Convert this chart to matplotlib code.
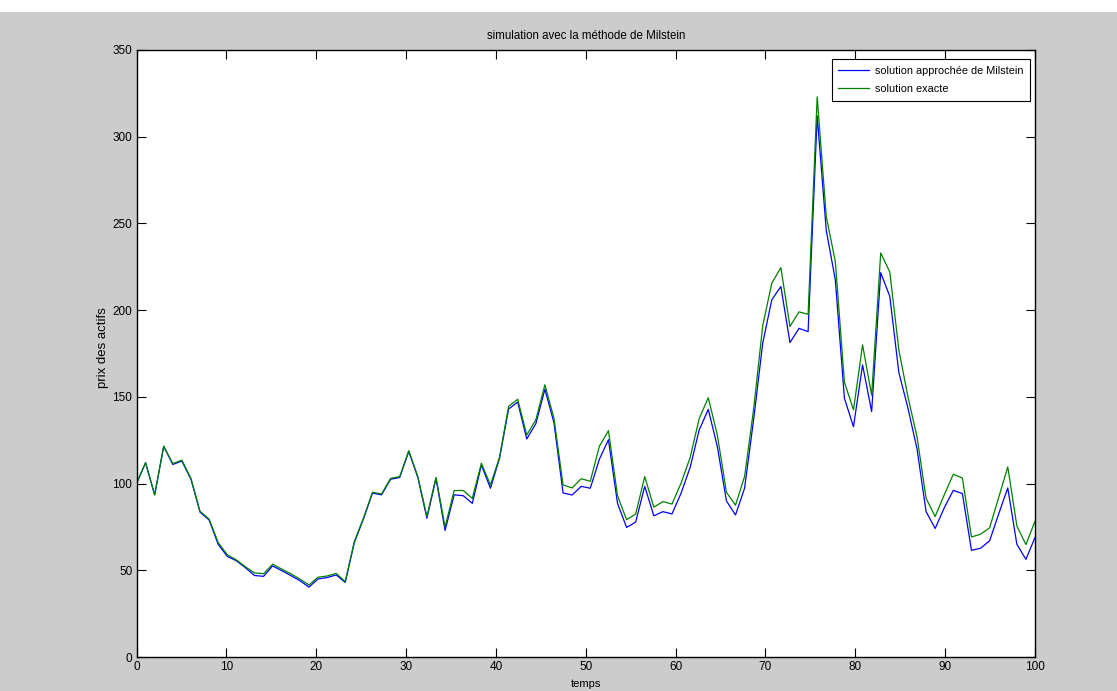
import numpy as np
import matplotlib
matplotlib.use("Agg")
import matplotlib.pyplot as plt
from matplotlib.patches import Rectangle

# ---- data ----
t = np.linspace(0, 100, 100)
milstein = [100, 112, 93.5, 121.5, 111, 113, 102.5, 83.5, 79, 65,
            58, 55.5, 51.5, 47, 46.5, 52.5, 49.8, 47, 44, 40.3,
            45, 45.8, 47.3, 43, 66, 79.5, 94.5, 93.5, 102.5, 103.5,
            118.5, 103.5, 80, 103, 73, 93.5, 93, 88.6, 110.7, 97.3,
            114.6, 143, 147, 125.7, 134.5, 154.4, 135, 94.6, 93.4, 98.4,
            97.3, 114, 125.3, 88.6, 74.7, 77.8, 98.4, 81.4, 83.8, 82.5,
            94.4, 109.3, 130.9, 142.8, 121.3, 90, 81.9, 97.3, 137, 181,
            206, 213.6, 181.3, 189.5, 187.6, 312, 246, 217.4, 149.2, 132.8,
            168.4, 141.5, 221.6, 208, 164, 143.5, 120, 83.8, 74.1, 86,
            96.1, 94.2, 61.5, 62.7, 67, 82.5, 97.5, 65, 56.3, 68.9]
exacte = [100, 112, 93.5, 121.5, 111.5, 113.5, 103, 84, 79.5, 66,
          59, 56, 52, 48.5, 48, 53.5, 50.7, 48, 45, 41.5,
          46, 46.7, 48.2, 43.5, 66.5, 80, 95, 94, 103, 104,
          119, 104, 81, 103.6, 75, 96, 96, 91.5, 111.7, 99.2,
          115.2, 144.5, 148.6, 128, 136.7, 157, 137.5, 99.2, 97.5, 102.8,
          101.3, 121.5, 130.5, 93, 79.2, 82.4, 104, 86.4, 89.6, 88.2,
          100.2, 115, 137.5, 149.5, 128, 95, 87.5, 104, 143, 191,
          215.6, 224.5, 190.6, 199, 197.6, 323, 254, 228, 158.5, 142.5,
          180, 151, 233, 222, 177, 150, 127, 91.5, 81, 93.5,
          105.4, 103.2, 69.2, 70.8, 74.5, 92, 109.6, 75.6, 64.8, 78.3]
xticks = list(range(0, 101, 10))
yticks = list(range(0, 351, 50))
labels = ["solution approchée de Milstein", "solution exacte"]
title = "simulation avec la méthode de Milstein"

W, H = 1117, 691
fig = plt.figure(figsize=(W / 100, H / 100), dpi=100, facecolor="#cccccc")
fig.patches.append(Rectangle((0, 1 - 12 / H), 1, 12 / H, transform=fig.transFigure,
                             facecolor="white", edgecolor="none", zorder=-1))

fam = ["Liberation Sans", "DejaVu Sans"]

L, R, T, B = 136.5, 1035, 50, 657
ax = fig.add_axes([L / W, 1 - B / H, (R - L) / W, (B - T) / H])
ax.set_facecolor("white")
ax.plot(t, milstein, color="#0000ff", lw=0.9, label=labels[0])
ax.plot(t, exacte, color="#008000", lw=0.9, label=labels[1])
ax.set_xlim(0, 100)
ax.set_ylim(0, 350)
ax.set_xticks(xticks)
ax.set_yticks(yticks)
ax.tick_params(direction="in", length=6.5, width=0.8, top=True, right=True,
               labelsize=8.5, pad=3, colors="black")
for lab in ax.get_xticklabels() + ax.get_yticklabels():
    lab.set_family(fam)
for s in ax.spines.values():
    s.set_linewidth(1.0)
    s.set_color("black")

fig.text(((L + R) / 2) / W, 1 - 36 / H, title, ha="center", va="center",
         fontsize=8.3, family=fam)
fig.text(103 / W, 1 - 348 / H, "prix des actifs", ha="center", va="center",
         rotation=90, fontsize=9.5, family=fam)
fig.text(((L + R) / 2) / W, 1 - 684 / H, "temps", ha="center", va="center",
         fontsize=8, family=fam)

leg = ax.legend(loc="upper right", bbox_to_anchor=(1030 / W, 1 - 59 / H),
                bbox_transform=fig.transFigure, borderaxespad=0, fancybox=False,
                framealpha=1, edgecolor="black", prop={"family": fam, "size": 7.8},
                handlelength=2.8, handletextpad=0.6, borderpad=0.6, labelspacing=0.8)
leg.get_frame().set_linewidth(0.8)

fig.savefig("out.png", dpi=100, facecolor=fig.get_facecolor())
